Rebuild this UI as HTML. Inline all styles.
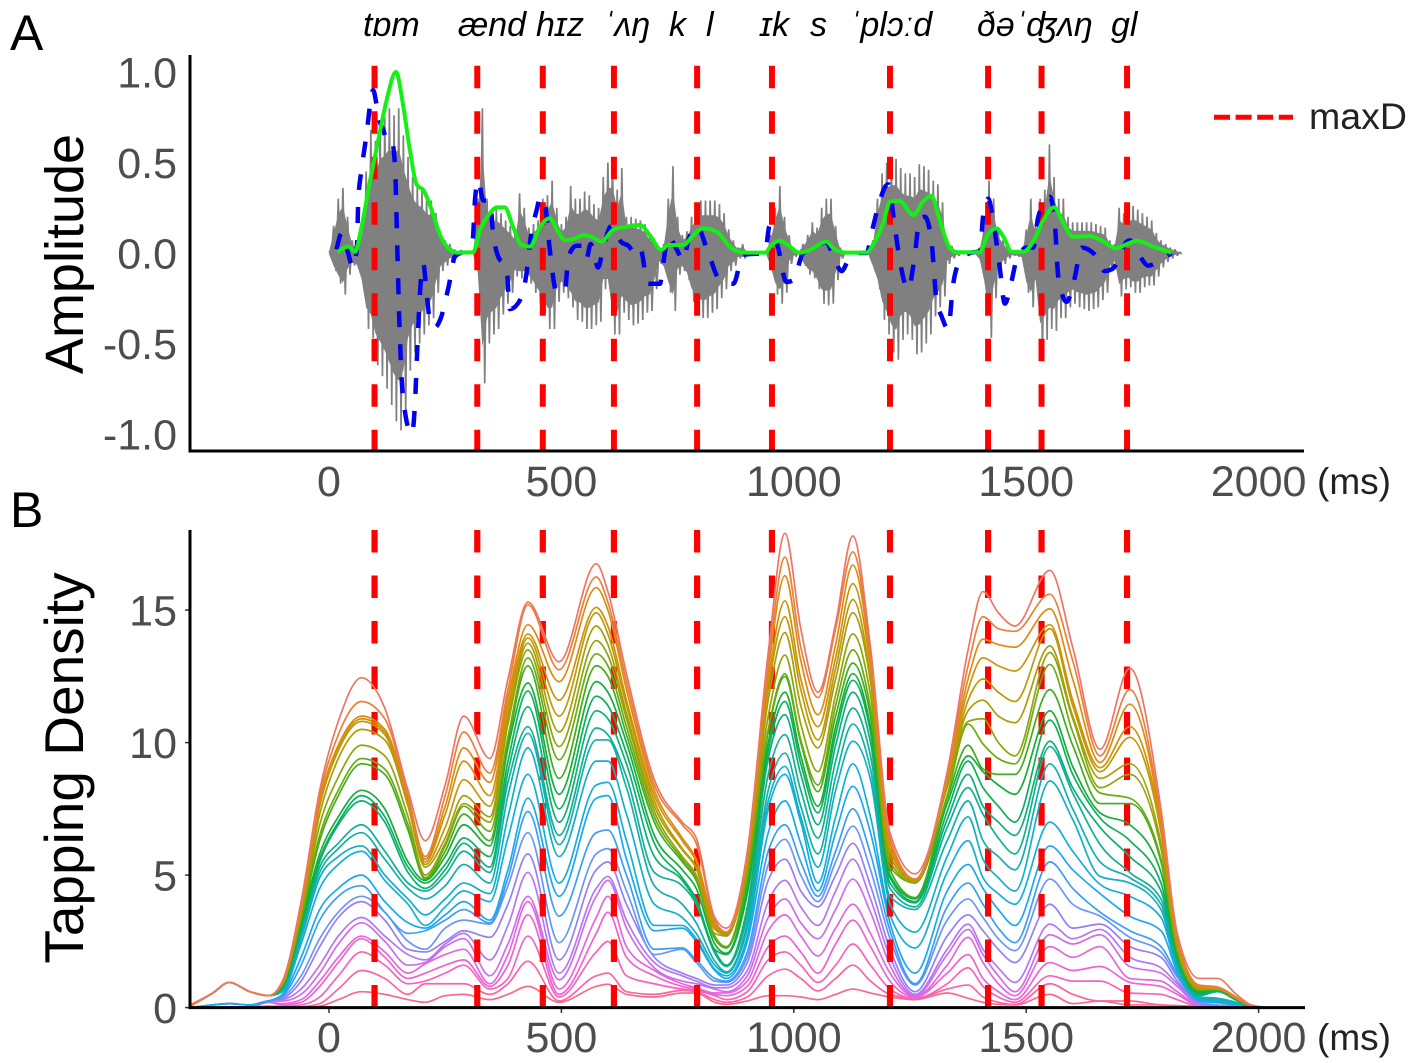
<!DOCTYPE html>
<html lang="en">
<head>
<meta charset="utf-8">
<title>Speech waveform and tapping density</title>
<style>
  html, body { margin: 0; padding: 0; background: #fff; }
  #figure { display: block; font-family: "Liberation Sans", "DejaVu Sans", sans-serif; }
  .tick { font-size: 43px; fill: #4d4d4d; }
  .title { font-size: 54px; fill: #000; }
  .panel { font-size: 50px; fill: #000; }
  .unit { font-size: 37px; fill: #222; }
  .ipa { font-size: 34px; font-style: italic; fill: #000; }
</style>
</head>
<body>
<svg id="figure" xmlns="http://www.w3.org/2000/svg" width="1417" height="1063" viewBox="0 0 1417 1063">
  <rect x="0" y="0" width="1417" height="1063" fill="#fff"/>
  <g id="panelA"></g>
  <g id="panelB"></g>

  <line x1="190" y1="55" x2="190" y2="452.5" stroke="#000" stroke-width="3"/>
  <line x1="188.5" y1="451" x2="1304" y2="451" stroke="#000" stroke-width="3"/>
  <line x1="190" y1="530" x2="190" y2="1009" stroke="#000" stroke-width="3"/>
  <line x1="188.5" y1="1007.6" x2="1305" y2="1007.6" stroke="#000" stroke-width="3"/>

  <text class="panel" x="10" y="50">A</text>
  <text class="panel" x="10" y="527">B</text>
  <text class="title" transform="translate(83,254) rotate(-90)" text-anchor="middle">Amplitude</text>
  <text class="title" style="font-size:55px" transform="translate(83,768) rotate(-90)" text-anchor="middle">Tapping Density</text>
  <text class="unit" x="1317" y="494">(ms)</text>
  <text class="unit" x="1317" y="1050">(ms)</text>

  <g>
    <line x1="1214" y1="117.3" x2="1293" y2="117.3" stroke="#f00" stroke-width="5" stroke-dasharray="16 5.6"/>
    <text x="1309" y="129" font-size="37.5" fill="#222">maxD</text>
  </g>

  <g>
    <text class="ipa" x="363" y="36">tɒm</text>
    <text class="ipa" x="458" y="36">ænd</text>
    <text class="ipa" x="536" y="36">hɪz</text>
    <text class="ipa" x="603" y="36">ˈʌŋ</text>
    <text class="ipa" x="669" y="36">k</text>
    <text class="ipa" x="706" y="36">l</text>
    <text class="ipa" x="760" y="36">ɪk</text>
    <text class="ipa" x="810" y="36">s</text>
    <text class="ipa" x="849" y="36">ˈplɔːd</text>
    <text class="ipa" x="977" y="36">ðəˈʤʌŋ</text>
    <text class="ipa" x="1111" y="36">gl</text>
  </g>
</svg>

<script>
// ---------- shared data ----------
const maxDTimes = [98, 319, 460, 613, 792, 953, 1207, 1418, 1533, 1717];
const timeTicks = [0, 500, 1000, 1500, 2000];
const amplitudeTicks = [1.0, 0.5, 0.0, -0.5, -1.0];
const amplitudeTickLabels = ["1.0", "0.5", "0.0", "-0.5", "-1.0"];
const densityTicks = [0, 5, 10, 15];

// ---------- panel A: waveform sampled every 10 ms from 0 ms ----------
const waveStartMs = 0;
const waveStepMs = 10;
const waveUpper = [.01,.15,.3,.36,.2,.07,.03,.1,.45,.68,.62,.72,.75,.8,.76,.8,.65,.53,.42,.37,.35,.3,.29,.22,.12,.07,.05,.02,.01,.005,.005,.01,.3,.8,.3,.24,.25,.22,.18,.15,.1,.33,.25,.14,.16,.18,.3,.32,.4,.25,.16,.2,.37,.3,.3,.34,.32,.27,.25,.42,.5,.5,.35,.47,.2,.2,.19,.18,.16,.1,.08,.02,.05,.3,.48,.2,.1,.12,.2,.25,.29,.29,.29,.29,.27,.22,.13,.07,.03,.05,.005,.005,.005,.005,.005,.1,.25,.37,.2,.1,.02,.01,.05,.1,.17,.14,.25,.3,.3,.15,.03,.005,.005,.005,.005,.005,.01,.07,.3,.44,.5,.52,.52,.47,.44,.44,.42,.49,.48,.46,.4,.38,.28,.08,.04,.015,.005,.005,.005,.005,.03,.2,.4,.3,.13,.07,.03,.015,.01,.01,.13,.3,.15,.3,.35,.6,.42,.3,.3,.2,.17,.17,.17,.17,.17,.16,.15,.14,.07,.05,.25,.22,.24,.26,.24,.22,.2,.18,.11,.07,.05,.03,.02,.005];
const waveLower = [-.01,-.1,-.17,-.23,-.12,-.07,-.09,-.2,-.42,-.47,-.62,-.68,-.75,-.84,-.93,-.98,-.9,-.65,-.55,-.5,-.45,-.4,-.36,-.22,-.1,-.07,-.04,-.02,-.01,-.005,-.005,-.01,-.15,-.72,-.5,-.45,-.42,-.34,-.28,-.22,-.13,-.14,-.14,-.17,-.22,-.28,-.33,-.42,-.42,-.27,-.22,-.25,-.3,-.37,-.38,-.42,-.42,-.4,-.38,-.2,-.2,-.45,-.45,-.33,-.37,-.4,-.39,-.37,-.33,-.32,-.2,-.06,-.1,-.22,-.32,-.12,-.1,-.15,-.27,-.33,-.36,-.36,-.33,-.31,-.25,-.2,-.1,-.07,-.03,-.03,-.005,-.005,-.005,-.005,-.005,-.1,-.23,-.28,-.22,-.06,-.02,-.01,-.07,-.12,-.14,-.2,-.28,-.29,-.28,-.15,-.03,-.005,-.005,-.005,-.005,-.005,-.01,-.1,-.2,-.37,-.45,-.55,-.59,-.48,-.45,-.48,-.56,-.55,-.5,-.45,-.35,-.3,-.24,-.06,-.03,-.015,-.005,-.005,-.005,-.005,-.05,-.22,-.47,-.25,-.1,-.06,-.03,-.015,-.02,-.03,-.22,-.3,-.2,-.54,-.48,-.42,-.43,-.36,-.36,-.3,-.28,-.3,-.31,-.32,-.31,-.3,-.26,-.22,-.1,-.06,-.24,-.2,-.19,-.22,-.22,-.19,-.18,-.18,-.13,-.08,-.05,-.03,-.015,-.005];

// ---------- panel A: green amplitude envelope ----------
const envelopeTimes = [18,42,56,70,88,106,124,144,160,174,189,203,221,239,257,275,310,325,346,361,378,396,414,432,454,475,493,507,525,547,565,586,611,640,669,690,715,730,762,784,805,834,862,895,938,952,970,988,1006,1013,1035,1070,1085,1113,1156,1174,1192,1207,1228,1257,1278,1296,1314,1332,1350,1400,1415,1436,1451,1469,1494,1515,1537,1560,1580,1601,1637,1666,1694,1712,1738,1773,1813];
const envelopeValues = [.007,.035,.007,.145,.394,.624,.845,1.0,.808,.569,.376,.348,.238,.099,.026,.002,.004,.127,.219,.252,.252,.145,.044,.035,.145,.192,.118,.072,.076,.099,.09,.063,.127,.145,.155,.099,.017,.044,.044,.099,.136,.118,.035,.002,.002,.044,.068,.044,.007,.002,.017,.063,.026,.002,.002,.063,.164,.284,.287,.21,.284,.315,.182,.044,.004,.004,.09,.136,.09,.007,.007,.063,.182,.252,.164,.09,.094,.063,.026,.044,.068,.035,.002];

// ---------- panel A: blue dashed articulation trace ----------
const traceTimes = [16,27,38,52,60,63,70,81,88,95,103,110,117,124,135,142,147,151,156,163,178,185,189,192,197,203,210,217,228,239,257,271,285,309,314,321,332,346,353,364,382,389,411,425,432,447,455,465,475,490,508,515,533,547,554,563,579,590,608,629,644,658,669,687,712,719,730,748,762,773,791,816,841,870,891,938,948,966,984,999,1020,1038,1070,1085,1103,1117,1135,1156,1171,1185,1203,1217,1228,1246,1260,1271,1282,1296,1307,1318,1332,1343,1354,1379,1400,1408,1418,1429,1443,1454,1469,1479,1501,1515,1526,1540,1551,1562,1569,1587,1605,1619,1644,1669,1684,1702,1712,1723,1745,1763,1788,1813];
const traceValues = [.02,.11,.03,-.08,.03,.29,.46,.66,.81,.9,.81,.72,.68,.62,.62,.48,.02,-.35,-.68,-.87,-1.0,-.83,-.59,-.41,-.17,-.06,-.22,-.37,-.41,-.37,-.19,-.02,.004,.07,.29,.4,.29,.29,.11,-.02,-.08,-.31,-.26,-.11,.05,.24,.31,.26,.02,-.22,-.2,-.02,.04,.04,-.03,.05,-.08,.03,.15,.06,.04,0,.03,-.17,-.17,-.06,.09,.02,-.04,.07,.15,0,-.15,-.17,-.01,0,.15,.03,-.16,-.15,0,.02,.06,-.02,-.1,-.04,0,0,.15,.29,.38,.15,-.04,-.2,-.02,.19,.2,.07,-.26,-.35,-.42,-.17,-.06,0,.01,.22,.3,.18,-.08,-.28,-.15,-.04,.03,.03,.2,.27,.31,.15,-.13,-.27,-.13,.03,0,-.1,-.09,-.02,.05,.07,-.02,-.07,-.04,0];

// ---------- panel B: tapping density ----------
const densityTimes = [-300,-250,-215,-170,-130,-100,-60,-20,20,70,120,170,207,250,290,346,385,428,495,575,600,640,700,760,790,830,855,900,945,981,1015,1052,1090,1127,1165,1207,1261,1330,1375,1407,1440,1476,1551,1600,1659,1723,1790,1825,1872,1912,1952,1984,2020];
// One row per entry of densityTimes; one value per curve, highest curve first.
const densityByTime = [
[.1,.05,.05,.05,.05,.05,.05,.05,.05,.05,.05,.05,.05,.05,.05,.05,0,0,0,0,0,0,0,0,0,0,0],
[.55,.55,.55,.55,.55,.55,.55,.55,.55,.55,.55,.55,.55,.55,.55,.55,.1,.1,.1,.1,.1,.1,0,0,0,0,0],
[.95,.95,.95,.95,.95,.95,.95,.95,.95,.95,.95,.95,.95,.95,.95,.95,.15,.15,.15,.15,.15,.15,.02,.02,.02,.02,.02],
[.6,.6,.6,.6,.6,.6,.6,.6,.6,.6,.6,.6,.6,.6,.6,.6,.1,.1,.1,.1,.1,.1,.03,.03,.03,.03,.03],
[.45,.45,.45,.45,.45,.45,.45,.45,.45,.45,.45,.45,.45,.45,.45,.45,.25,.25,.25,.25,.25,.25,.2,.2,.05,.05,.05],
[1.0,1.0,1.0,.95,.95,.9,.9,.85,.85,.8,.8,.75,.75,.7,.65,.6,.5,.45,.4,.35,.3,.25,.15,.1,.05,0,0],
[4.0,3.9,3.8,3.8,3.7,3.6,3.5,3.4,3.3,3.2,3.1,3.0,2.9,2.8,2.6,2.4,1.9,1.6,1.2,1.0,.7,.5,.3,.2,.1,.03,0],
[8.2,8.0,7.8,7.7,7.6,7.3,6.9,6.5,6.3,5.8,5.6,5.5,5.3,5.1,4.9,4.5,3.7,3.3,2.6,2.3,1.6,1.3,1.0,.8,.4,.15,.05],
[10.8,10.3,9.9,9.8,9.7,9.4,8.7,8.2,8.0,7.2,7.0,6.9,6.2,6.0,5.7,5.4,4.5,4.2,3.6,3.4,2.7,2.4,1.9,1.7,1.2,.7,.3],
[12.45,11.55,11.0,10.9,10.8,10.5,9.9,9.4,9.2,8.2,8.0,7.8,6.9,6.6,6.1,5.9,5.0,4.6,4.2,4.0,3.4,3.2,2.7,2.6,2.1,1.4,.6],
[11.3,10.9,10.5,10.4,10.3,10.1,9.5,9.0,8.8,7.5,7.2,7.0,5.9,5.6,5.0,4.8,4.0,3.6,3.6,3.3,2.7,2.5,2.1,1.9,1.6,1.1,.5],
[8.2,8.0,7.9,7.8,7.7,7.6,7.2,6.9,6.7,5.5,5.3,5.1,4.7,4.5,4.1,3.9,3.2,2.8,2.5,2.2,2.0,1.6,1.3,1.1,.9,.5,.3],
[6.3,5.7,5.6,5.5,5.4,5.3,5.0,4.9,4.85,4.8,4.7,4.5,4.4,4.1,3.5,3.1,3.0,2.9,2.2,2.1,1.8,1.7,1.65,1.3,1.0,.9,.2],
[8.4,8.0,7.6,7.3,6.8,6.4,6.2,6.1,5.9,5.7,5.4,5.2,5.0,4.6,4.1,3.8,3.5,3.3,3,2.5,2.4,2.3,2,1.6,1.3,.9,.45],
[11.0,10.4,9.8,9.3,8.6,8.0,7.7,7.6,7.3,6.9,6.4,6.2,5.9,5.4,4.7,4.4,4.0,3.7,3.3,2.9,2.8,2.6,2.2,1.8,1.6,.9,.5],
[9.4,8.85,8.5,8.0,7.6,7.2,7.0,6.65,6.3,6.1,5.7,5.3,5.1,4.7,4.3,4.0,3.3,3.2,3.15,2.65,1.8,1.2,.9,.8,.7,.5,.3],
[12.4,12.0,11.7,11.4,11.1,10.9,10.7,10.2,10,9.8,9.3,8.9,8.5,8,7.2,6.4,5.2,4.9,4.6,3.9,3.1,2.4,2.0,1.6,1.1,.9,.5],
[15.3,15.2,14.45,14.1,13.95,13.75,13.5,13.2,12.9,12.25,11.95,11.35,10.6,10.35,9.8,8.8,7.9,7.4,6.6,5.8,5.1,4.2,4.0,3.5,2.7,1.75,.8],
[13.05,12.75,12.3,11.6,11,10.4,9.85,9.35,8.65,8.05,7.5,7,6.5,6.15,5.7,4.7,4.2,3.45,2.45,1.8,1.3,1.05,.7,.5,.4,.25,.2],
[16.75,16.25,15.85,15.1,14.9,14.4,13.85,13.35,12.9,12.3,11.75,11.2,10.55,10.1,9.3,8.4,7.9,6.6,5.8,5.2,4.5,4.2,3.4,2.8,2.1,1.2,.8],
[15.7,15.3,15,14.4,14.1,13.7,13.3,12.9,12.5,11.9,11.4,10.9,10.3,10.1,9.3,8.5,8,6.7,6,5.5,4.95,4.8,4.2,3.6,2.5,1.3,.88],
[12.6,12.3,12.0,11.6,11.4,11.1,10.9,10.6,10.3,10.0,9.6,9.2,8.7,8.3,7.3,6.3,5.6,5.0,4.4,3.9,3.3,3.0,2.3,1.9,1.2,.6,.5],
[8.6,8.4,8.2,8,7.8,7.6,7.4,7.2,7,6.5,6.2,5.7,5.1,4.6,3.9,3.1,2.9,2.2,2,1.9,1.7,1.5,1.4,1.2,.9,.5,.4],
[7.0,6.9,6.4,6.3,6.0,5.95,5.7,5.6,5.5,5.2,4.9,4.8,4.6,3.9,3.4,3.1,3.0,2.25,2.2,1.3,1.2,1.0,.9,.8,.7,.65,.55],
[6.4,6.2,5.6,5.5,5.3,5.25,5.0,4.9,4.8,4.5,4.1,4,3.9,3.2,2.8,2.6,2.5,1.8,1.7,1.1,1,.9,.75,.7,.65,.6,.55],
[3.4,3.3,3.2,3.1,3,2.95,2.8,2.7,2.6,2.4,2.2,2.15,2.05,1.75,1.6,1.45,1.4,1.1,1.0,.85,.75,.7,.55,.5,.45,.3,.2],
[3.0,2.85,2.85,2.8,2.8,2.75,2.7,2.3,2.25,2.05,2.0,1.6,1.55,1.35,1.3,1.2,1.1,1.0,.95,.85,.75,.6,.55,.45,.3,.2,.12],
[5.9,5.8,5.7,5.6,5.5,5.4,5.3,5.0,4.8,4.5,4.3,3.8,3.5,3.2,3.0,2.7,2.5,2.1,1.9,1.7,1.4,1.2,1.0,.8,.6,.4,.25],
[13.4,13.0,12.7,12.3,12,11.6,11,10.5,10.4,10,9.7,9.4,8.8,8.2,7.8,7.5,6.6,5.9,5.4,4.8,4.0,3.4,2.9,2.3,1.8,1.2,.45],
[17.9,17,16.3,15.35,14.75,14.15,13.3,12.6,12.5,11.9,11.55,11.05,10.3,9.6,9.1,8.8,7.8,6.9,6.35,5.6,4.8,4.1,3.5,2.7,2.1,1.45,.45],
[14.3,13.6,13.1,12.4,12,11.4,10.7,10.1,10,9.5,9.2,8.8,8.2,7.6,7.2,7,6.2,5.5,5.0,4.4,3.8,3.2,2.7,2.1,1.6,1.1,.4],
[11.9,11.7,11.05,10.6,10.1,9.8,8.9,8.4,8.15,7.6,7.35,6.9,6.4,5.8,5.3,4.7,4.4,4.2,4,3.8,3.1,2.6,1.95,1.3,.95,.63,.3],
[14.5,14.3,13.7,13.2,12.8,12.4,11.8,11.4,11,10.6,10.3,9.9,9.3,8.7,8.2,7.2,6.6,5.9,5.5,5.0,4.4,3.7,3.0,2.4,1.6,1.1,.5],
[17.8,17.2,16.7,16,15.4,14.9,14.1,13.5,13,12.6,12.35,11.9,11.3,10.7,10.05,9.2,8.35,7.5,6.85,6.2,5.6,4.85,3.9,3.3,2.4,1.6,.7],
[13.6,13.4,13.2,12.9,12.5,12.3,11.8,11.3,11,10.6,10.4,10,9.5,9,8.6,7.2,6.6,5.8,5.2,4.6,4.1,3.6,2.8,2.3,1.6,1,.55],
[6.6,6.4,6.2,6,5.9,5.7,5.5,5.3,5.2,5,4.9,4.7,4.5,4.2,3.9,3.5,3.2,2.9,2.6,2.2,1.9,1.6,1.3,1,.7,.5,.4],
[5.05,4.85,4.85,4.8,4.8,4.75,4.7,4.7,4.15,4.1,4,3.95,3.8,3.7,2.85,2.25,1.3,.9,.85,.6,.5,.45,.42,.4,.35,.35,.3],
[8.9,8.8,8.7,8.6,8.5,8.4,8.3,8,7.9,7.7,7.4,7.1,6.8,6.3,5.7,5.1,4.4,3.8,3.3,2.7,2.2,2,1.6,1.3,.9,.7,.55],
[13.5,12.9,12.4,12,11.6,11.2,10.8,10.7,9.9,9.5,9.3,8.8,8.3,7.8,7.2,6.3,5.4,4.7,4.1,3.5,3.15,2.95,2.65,2.0,1.5,.85,.35],
[15.7,14.75,13.9,13.2,12.4,11.6,10.9,9.95,9.0,8.9,8.3,7.6,7.3,6.3,5.6,4.9,4.5,3.9,3.4,2.9,2.2,2,1.7,1.1,.8,.4,.2],
[14.9,14.3,13.7,12.9,11.9,11,10,9.4,8.8,8.4,7.6,7,6.4,5.7,4.9,4.3,3.7,3,2.6,2.2,1.5,1.2,.9,.6,.4,.2,.12],
[14.4,14.2,13.6,12.7,11.55,10.75,9.5,9.2,8.8,8.05,7,6.5,5.8,5.2,4.4,3.9,3.1,2.45,2.15,1.7,.95,.6,.45,.3,.2,.12,.1],
[16.5,15.6,15.05,14.45,14.3,13.65,13.4,12.95,12,11.2,10.85,10.05,9.85,9.2,8.55,7,6.1,5.5,4.85,3.9,3.15,2.75,2.3,1.7,1.2,.9,.5],
[13.6,13.1,12.4,11.6,11.4,11,10.9,10.4,9.9,9.1,8.8,8.3,8.1,7.5,7.1,5.9,5.2,4.5,3.9,3,2.6,2.4,1.9,1.4,1,.5,.15],
[9.75,9.5,9.25,9.05,8.9,8.65,8.3,8.1,7.7,7.35,7.15,6.8,6.15,5.5,4.95,4.65,4.3,3.6,3.45,3.15,2.95,2.75,2.3,1.55,1.0,.25,.25],
[12.8,12,11.45,10.6,10.2,9.2,8.8,7.9,7.7,6.9,6.3,5.7,5.1,4.9,4.7,4.2,3.45,2.9,2.65,2.3,1.9,1.55,1.1,.95,.55,.25,.1],
[7.5,7.2,7,6.8,6.6,6.2,6,5.6,5.5,5.1,4.7,4.4,4.1,3.9,3.7,3.4,2.9,2.3,2.1,1.9,1.5,1.3,1,.8,.5,.1,.1],
[2.8,2.7,2.6,2.5,2.4,2.35,2.25,2.15,2.1,2,1.9,1.8,1.7,1.6,1.5,1.4,1.35,1.25,1.15,1,.9,.8,.6,.5,.3,.08,.05],
[1.1,.85,.8,.78,.75,.7,.7,.68,.65,.6,.55,.5,.45,.4,.35,.3,.28,.25,.2,.18,.15,.1,.08,.06,.04,.04,.02],
[1.1,.78,.75,.72,.72,.7,.7,.68,.68,.66,.65,.62,.6,.35,.3,.25,.2,.18,.1,.05,.05,.03,.03,.02,.02,.02,0],
[.5,.4,.38,.36,.36,.35,.35,.34,.33,.3,.3,.3,.28,.2,.18,.15,.12,.1,.05,.02,.02,.01,.01,.01,.01,.01,0],
[.1,.08,.07,.07,.07,.06,.06,.06,.06,.05,.05,.05,.05,.03,.03,.02,.02,.01,0,0,0,0,0,0,0,0,0],
[0,0,0,0,0,0,0,0,0,0,0,0,0,0,0,0,0,0,0,0,0,0,0,0,0,0,0]
];
const curvePalette = ["#f07464","#e8803a","#dd8a10","#cf9108","#bd9a06","#a89e08","#8fa50a","#6aab10","#3fae1c","#14ae38","#0cb05c","#0bb078","#10b092","#12b0ac","#12b0c6","#14aedc","#1aa8ee","#3a9ef6","#6a96f8","#967ef6","#b676f4","#d06cec","#e466e0","#f062d0","#f862bc","#fa64a4","#f86a88"];

// ---------- axis functions ----------
function xScale(ms) { return 329 + 0.4648 * ms; }
function yAmplitude(a) { return 253 - 181 * a; }
function yDensity(d) { return 1007.6 - 26.5 * d; }

// ---------- monotone curve through points ----------
function monotonePath(xs, ys) {
  const n = xs.length;
  const slopes = [];
  for (let i = 0; i < n - 1; i++) {
    slopes.push((ys[i + 1] - ys[i]) / (xs[i + 1] - xs[i]));
  }
  const tangents = [slopes[0]];
  for (let i = 1; i < n - 1; i++) {
    const a = slopes[i - 1];
    const b = slopes[i];
    if (a * b <= 0) {
      tangents.push(0);
    } else {
      const h0 = xs[i] - xs[i - 1];
      const h1 = xs[i + 1] - xs[i];
      const p = (a * h1 + b * h0) / (h0 + h1);
      const s = a > 0 ? 1 : -1;
      tangents.push(s * Math.min(Math.abs(a), Math.abs(b), Math.abs(p) / 2) * 2);
    }
  }
  tangents.push(slopes[n - 2]);
  let d = "M" + xs[0].toFixed(2) + " " + ys[0].toFixed(2);
  for (let i = 0; i < n - 1; i++) {
    const h = (xs[i + 1] - xs[i]) / 3;
    d += "C" + (xs[i] + h).toFixed(2) + " " + (ys[i] + h * tangents[i]).toFixed(2) + " " +
         (xs[i + 1] - h).toFixed(2) + " " + (ys[i + 1] - h * tangents[i + 1]).toFixed(2) + " " +
         xs[i + 1].toFixed(2) + " " + ys[i + 1].toFixed(2);
  }
  return d;
}

const NS = "http://www.w3.org/2000/svg";
const panelA = document.getElementById("panelA");
const panelB = document.getElementById("panelB");

function svgEl(tag, parent, attrs) {
  const el = document.createElementNS(NS, tag);
  for (const key in attrs) {
    el.setAttribute(key, attrs[key]);
  }
  parent.appendChild(el);
  return el;
}

// ---------- panel A marks ----------
// solid core of the waveform
const coreShare = 0.72;
let coreTop = "";
let coreBottom = "";
for (let i = 0; i < waveUpper.length; i++) {
  const t = waveStartMs + i * waveStepMs;
  coreTop += (i === 0 ? "M" : "L") + xScale(t).toFixed(2) + " " + yAmplitude(waveUpper[i] * coreShare).toFixed(2);
}
for (let i = waveLower.length - 1; i >= 0; i--) {
  const t = waveStartMs + i * waveStepMs;
  coreBottom += "L" + xScale(t).toFixed(2) + " " + yAmplitude(waveLower[i] * coreShare).toFixed(2);
}
const waveCore = svgEl("path", panelA, { d: coreTop + coreBottom + "Z", fill: "#808080" });



// alternating pulses of the waveform
let waveD = "";
for (let i = 0; i < waveUpper.length; i++) {
  const t = waveStartMs + i * waveStepMs;
  waveD += (i === 0 ? "M" : "L") + xScale(t).toFixed(2) + " " + yAmplitude(waveUpper[i]).toFixed(2);
  waveD += "L" + xScale(t + waveStepMs / 2).toFixed(2) + " " + yAmplitude(waveLower[i]).toFixed(2);
}
const wavePath = svgEl("path", panelA, { d: waveD, fill: "none", stroke: "#808080", "stroke-width": 1.7, "stroke-linejoin": "bevel" });



maxDTimes.forEach(function (t) {
  const line = svgEl("line", panelA, { x1: xScale(t), x2: xScale(t), y1: 65.7, y2: 450, stroke: "#ff0000", "stroke-width": 6, "stroke-dasharray": "22.5 23" });
  
  
});

const tracePath = svgEl("path", panelA, { d: monotonePath(traceTimes.map(xScale), traceValues.map(yAmplitude)), fill: "none", stroke: "#0000ee", "stroke-width": 4.5, "stroke-dasharray": "16 17" });



const envelopePath = svgEl("path", panelA, { d: monotonePath(envelopeTimes.map(xScale), envelopeValues.map(yAmplitude)), fill: "none", stroke: "#14f014", "stroke-width": 4 });



amplitudeTicks.forEach(function (v, i) {
  const label = svgEl("text", panelA, { class: "tick", x: 177, y: yAmplitude(v) + 15.5, "text-anchor": "end" });
  label.textContent = amplitudeTickLabels[i];
  
  
});

timeTicks.forEach(function (t) {
  const label = svgEl("text", panelA, { class: "tick", x: xScale(t), y: 496, "text-anchor": "middle" });
  label.textContent = String(t);
  
  
});

// ---------- panel B marks ----------
const curveCount = densityByTime[0].length;
const curvesBehindDashes = 12;

function drawCurve(c) {
  const xs = [];
  const ys = [];
  densityTimes.forEach(function (t, k) {
    xs.push(Math.max(190, xScale(t)));
    ys.push(yDensity(densityByTime[k][c]));
  });
  const curve = svgEl("path", panelB, { d: monotonePath(xs, ys), fill: "none", stroke: curvePalette[c], "stroke-width": 1.7 });
  
  
}

for (let c = curveCount - 1; c >= curveCount - curvesBehindDashes; c--) {
  drawCurve(c);
}

maxDTimes.forEach(function (t) {
  const line = svgEl("line", panelB, { x1: xScale(t), x2: xScale(t), y1: 530, y2: 1007, stroke: "#ff0000", "stroke-width": 6.2, "stroke-dasharray": "22.5 23" });
  
  
});

for (let c = curveCount - curvesBehindDashes - 1; c >= 0; c--) {
  drawCurve(c);
}

densityTicks.forEach(function (v) {
  const mark = svgEl("line", panelB, { x1: 185, x2: 190, y1: yDensity(v), y2: yDensity(v), stroke: "#333", "stroke-width": 1.5 });
  
  
  const label = svgEl("text", panelB, { class: "tick", x: 177, y: yDensity(v) + 15.5, "text-anchor": "end" });
  label.textContent = String(v);
  
  
});

timeTicks.forEach(function (t) {
  const mark = svgEl("line", panelB, { x1: xScale(t), x2: xScale(t), y1: 1007.6, y2: 1013, stroke: "#333", "stroke-width": 1.5 });
  
  
  const label = svgEl("text", panelB, { class: "tick", x: xScale(t), y: 1052, "text-anchor": "middle" });
  label.textContent = String(t);
  
  
});
</script>
</body>
</html>
